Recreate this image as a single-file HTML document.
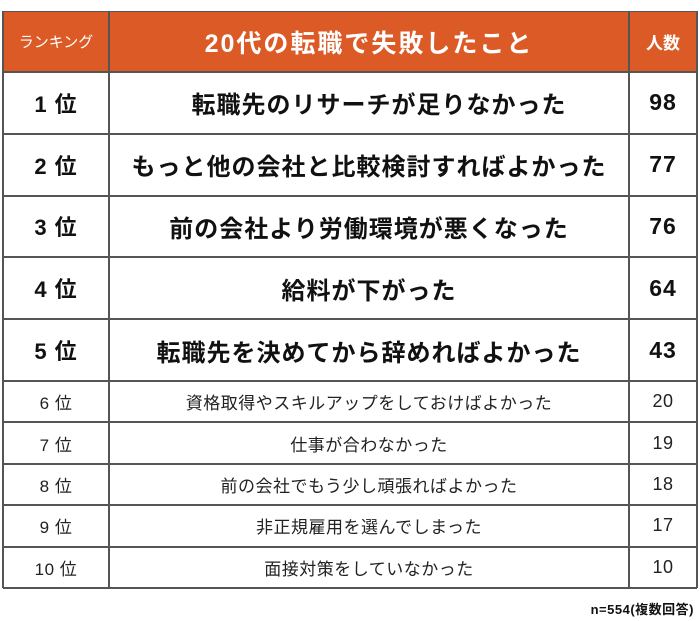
<!DOCTYPE html>
<html><head><meta charset="utf-8"><style>
body{margin:0;width:700px;height:621px;background:#fff;position:relative;font-family:"Liberation Sans","Noto Sans CJK JP",sans-serif;overflow:hidden}
.c{position:absolute;display:flex;align-items:center;justify-content:center;box-sizing:border-box;color:#111;white-space:nowrap}
.h{background:#dc5a25;color:#fff;font-weight:bold}
.line{position:absolute;background:#555}
.big{font-weight:bold;font-size:24px;letter-spacing:1px}
.sm{font-size:17px;color:#222;letter-spacing:0.5px}
</style></head><body>
<div id="t"></div>
<div class="c" style="left:520px;top:598px;width:174px;height:20px;justify-content:flex-end;font-size:13px;font-weight:bold;letter-spacing:0.5px">n=554(複数回答)</div>
<script>
const ranks=["1 位","2 位","3 位","4 位","5 位","6 位","7 位","8 位","9 位","10 位"];
const items=["転職先のリサーチが足りなかった","もっと他の会社と比較検討すればよかった","前の会社より労働環境が悪くなった","給料が下がった","転職先を決めてから辞めればよかった","資格取得やスキルアップをしておけばよかった","仕事が合わなかった","前の会社でもう少し頑張ればよかった","非正規雇用を選んでしまった","面接対策をしていなかった"];
const counts=[98,77,76,64,43,20,19,18,17,10];
const X0=3,X1=109,X2=629,X3=697,Y0=11,YH=72;
const t=document.getElementById('t');
function cell(x,y,w,h,txt,cls,name){const d=document.createElement('div');d.className='c '+cls;d.style.left=x+'px';d.style.top=y+'px';d.style.width=w+'px';d.style.height=h+'px';d.textContent=txt;


t.appendChild(d);return d;}
function line(x,y,w,h){const d=document.createElement('div');d.className='line';d.style.left=x+'px';d.style.top=y+'px';d.style.width=w+'px';d.style.height=h+'px';


t.appendChild(d);}
let e=cell(X0,Y0,X1-X0,YH-Y0,"ランキング","h","header-ranking");e.style.fontSize='15px';e.style.fontWeight='normal';
e=cell(X1,Y0,X2-X1,YH-Y0,"20代の転職で失敗したこと","h","header-title");e.style.fontSize='25px';e.style.letterSpacing='2px';
e=cell(X2,Y0,X3-X2,YH-Y0,"人数","h","header-count");e.style.fontSize='17px';
const ys=[YH];
for(let i=0;i<ranks.length;i++){ys.push(ys[i]+(i<5?61.8:41.4));}
for(let i=0;i<ranks.length;i++){
 const y=ys[i],h=ys[i+1]-ys[i],cls=i<5?'big':'sm';
 const r=cell(X0,y,X1-X0,h,ranks[i],cls,'rank-'+(i+1));
 const it=cell(X1,y,X2-X1,h,items[i],cls,'item-'+(i+1));
 const c=cell(X2,y,X3-X2,h,String(counts[i]),cls,'count-'+(i+1));
 if(i<5){r.style.fontSize='22px';r.style.whiteSpace='pre';c.style.fontSize='23px';}
 else{r.style.fontSize='17px';r.style.whiteSpace='pre';c.style.fontSize='18px';}
 if(i===0){it.style.paddingLeft='20px';}
}
for(const y of ys)line(X0,Math.round(y)-1,X3-X0,2);
line(X0,Y0,X3-X0,1);
line(X0-1,Y0,2,ys[ys.length-1]-Y0);line(X1-1,Y0,2,ys[ys.length-1]-Y0);line(X2-1,Y0,2,ys[ys.length-1]-Y0);line(X3-1,Y0,2,ys[ys.length-1]-Y0);
</script>
</body></html>
